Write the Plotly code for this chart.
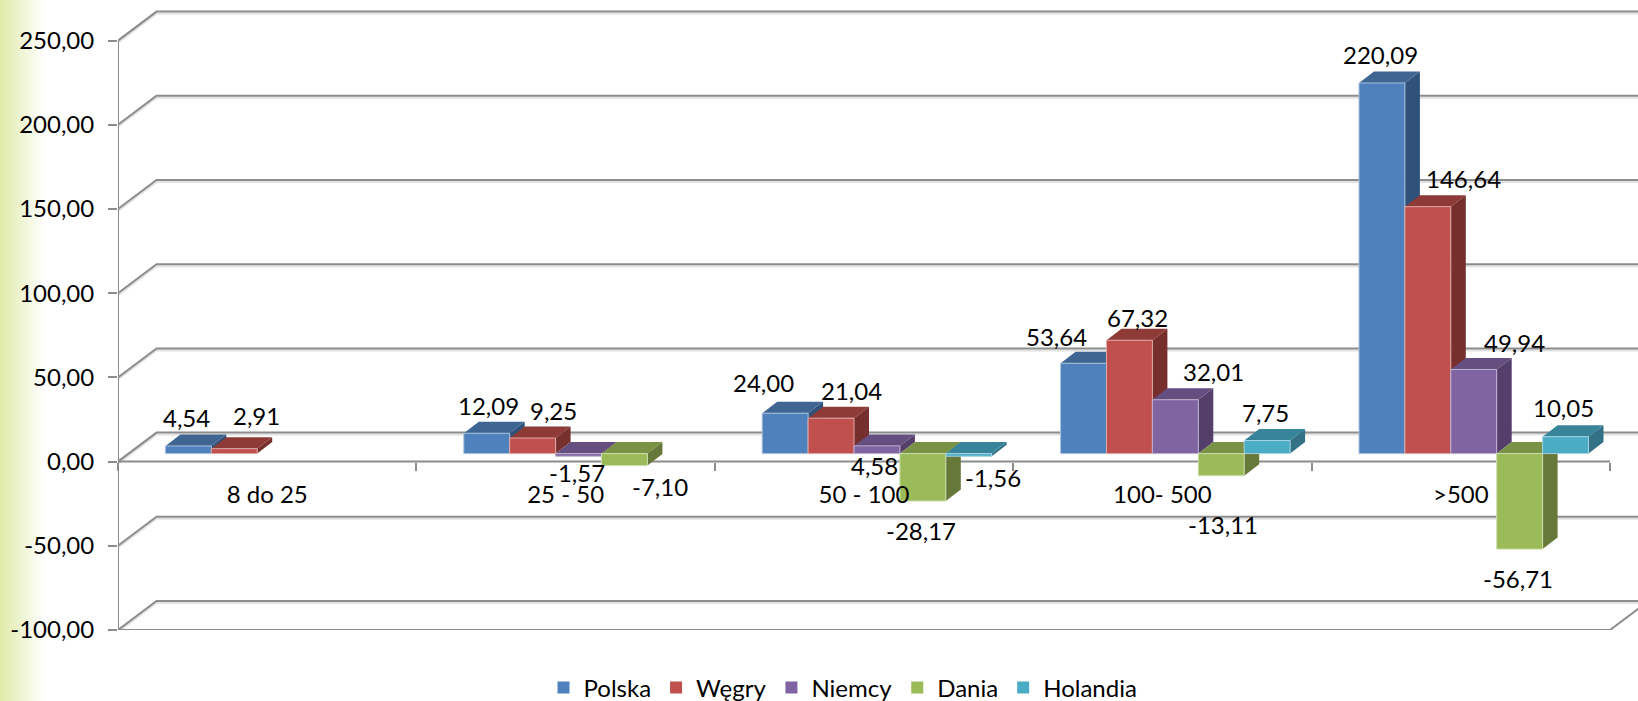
import plotly.graph_objects as go

# ---- data ----
categories = ["8 do 25", "25 - 50", "50 - 100", "100- 500", ">500"]
series_names = ["Polska", "Węgry", "Niemcy", "Dania", "Holandia"]
polska = [4.54, 12.09, 24.00, 53.64, 220.09]
wegry = [2.91, 9.25, 21.04, 67.32, 146.64]
niemcy = [None, -1.57, 4.58, 32.01, 49.94]
dania = [None, -7.10, -28.17, -13.11, -56.71]
holandia = [None, None, -1.56, 7.75, 10.05]
y_ticks = [-100, -50, 0, 50, 100, 150, 200, 250]
y_tick_labels = ["-100,00", "-50,00", "0,00", "50,00", "100,00", "150,00", "200,00", "250,00"]

# ---- styles ----
front_colors = ["#4F81BD", "#C0504D", "#8064A2", "#9BBB59", "#4BACC6"]
top_colors = ["#3F6592", "#8E3A37", "#654E80", "#7A9246", "#38859B"]
side_colors = ["#30527A", "#772F2D", "#543F6B", "#66793A", "#327186"]
edge_colors = ["#A9C1DE", "#DFA8A6", "#BFB1D0", "#CDDDAC", "#A5D5E2"]
GRID = "#8C8C8C"
GRID_SHADOW = "#E2E2E2"

# label offsets in pixels from the front-top centre of each bar (dx, dy down)
label_offsets = [
    [(-2, -28), (2, -28), (-22, -31), (-27, -27), (-1, -28)],
    [(22, -33), (21, -28), (20, -28), (8, -23), (36, -28)],
    [None, (-2, 16), (-2, 20), (38, -28), (41, -27)],
    [None, (36, 21), (-2, 29), (2, 49), (-2, 29)],
    [None, None, (24, 21), (-2, -28), (-2, -29)],
]

# ---- scale helpers (plot area geometry) ----
W, H = 1638, 701
ML, MB = 118, 71
PX_CAT = 298.4
PX_UNIT = 1.684
px_x = lambda p: p / PX_CAT
px_y = lambda p: p / PX_UNIT

WALL_DX, WALL_DY = px_x(38.5), px_y(29)      # depth of chart box
BAR_PAD = px_x(47.4)                         # gap at start of category
BAR_W = px_x(45.9)
FRONT_DY = px_y(8)                           # bars sit a bit behind the front plane
BAR_DX, BAR_DY = px_x(15), px_y(11.5)        # bar depth

fig = go.Figure()


def poly_trace(xs, ys, fill, line=None, width=0):
    fig.add_trace(go.Scatter(
        x=xs, y=ys, mode="lines", fill="toself", fillcolor=fill,
        line=dict(color=line or fill, width=width), hoverinfo="skip", showlegend=False))


def line_trace(xs, ys, color=GRID, width=2):
    fig.add_trace(go.Scatter(
        x=xs, y=ys, mode="lines", line=dict(color=color, width=width),
        hoverinfo="skip", showlegend=False))


# grid: front diagonal + back wall line
X_END = 5
for shadow, off in ((True, px_y(-2)), (False, 0)):
    gx, gy = [], []
    for v in y_ticks:
        gx += [0, WALL_DX, X_END + WALL_DX, None]
        gy += [v + off, v + WALL_DY + off, v + WALL_DY + off, None]
    line_trace(gx, gy, GRID_SHADOW if shadow else GRID)

# walls, floor and baseline
line_trace([0, 0], [y_ticks[0], y_ticks[-1]])
line_trace([0, X_END, X_END + WALL_DX], [y_ticks[0], y_ticks[0], y_ticks[0] + WALL_DY])
line_trace([0, X_END], [0, 0])

all_series = [polska, wegry, niemcy, dania, holandia]
annotations = []
for s, values in enumerate(all_series):
    front_x, front_y, top_x, top_y, side_x, side_y = [], [], [], [], [], []
    for c, v in enumerate(values):
        if v is None:
            continue
        x0 = c + BAR_PAD + s * BAR_W
        x1 = x0 + BAR_W
        base = FRONT_DY
        hi = max(v, 0) + base
        lo = min(v, 0) + base
        front_x += [x0, x1, x1, x0, x0, None]
        front_y += [lo, lo, hi, hi, lo, None]
        top_x += [x0, x1, x1 + BAR_DX, x0 + BAR_DX, x0, None]
        top_y += [hi, hi, hi + BAR_DY, hi + BAR_DY, hi, None]
        side_x += [x1, x1 + BAR_DX, x1 + BAR_DX, x1, x1, None]
        side_y += [lo, lo + BAR_DY, hi + BAR_DY, hi, lo, None]
        dx, dy = label_offsets[s][c]
        annotations.append(dict(
            x=(x0 + x1) / 2, y=v + base, xref="x", yref="y",
            text=f"{v:.2f}".replace(".", ","), showarrow=False,
            xanchor="center", yanchor="middle", xshift=dx, yshift=-dy,
            font=dict(family="Lato", size=24, color="#000000")))
    poly_trace(side_x, side_y, side_colors[s])
    poly_trace(top_x, top_y, top_colors[s])
    poly_trace(front_x, front_y, front_colors[s], edge_colors[s], 1)

# legend entries
for name, color in zip(series_names, front_colors):
    fig.add_trace(go.Scatter(
        x=[None], y=[None], mode="markers", name=name,
        marker=dict(symbol="square", size=14, color=color)))

# left gradient band
shapes = []
BAND = 44
for i in range(BAND):
    mix = 1 - i / BAND
    r = round(255 + (224 - 255) * mix)
    g = round(255 + (235 - 255) * mix)
    b = round(255 + (170 - 255) * mix)
    shapes.append(dict(
        type="rect", xref="paper", yref="paper", layer="below",
        x0=(i - ML) / (W - ML), x1=(i + 1 - ML) / (W - ML), y0=-MB / (H - MB), y1=1,
        fillcolor=f"rgb({r},{g},{b})", line=dict(width=0)))

plot_h = H - MB
fig.update_layout(
    width=W, height=H,
    margin=dict(l=ML, r=0, t=0, b=MB, autoexpand=False),
    paper_bgcolor="#FFFFFF", plot_bgcolor="rgba(0,0,0,0)",
    shapes=shapes, annotations=annotations,
    font=dict(family="Lato", color="#000000"),
    showlegend=True,
    legend=dict(
        orientation="h", x=(843 - ML) / (W - ML), xanchor="center",
        y=-58 / plot_h, yanchor="middle",
        font=dict(family="Lato", size=24), bgcolor="rgba(0,0,0,0)",
        itemsizing="constant", tracegroupgap=0),
    xaxis=dict(
        range=[0, (W - ML) / PX_CAT], showgrid=False, zeroline=False, showline=False,
        anchor="free", position=(100 * PX_UNIT) / plot_h,
        tickmode="array", tickvals=[i + 0.5 for i in range(5)], ticktext=categories,
        ticks="", ticklabelstandoff=16, tickfont=dict(family="Lato", size=24, color="#000000"),
        minor=dict(tickmode="array", tickvals=list(range(6)), ticks="outside",
                   ticklen=8, tickwidth=2, tickcolor=GRID, showgrid=False),
        fixedrange=True),
    yaxis=dict(
        range=[-100, -100 + plot_h / PX_UNIT], showgrid=False, zeroline=False, showline=False,
        tickmode="array", tickvals=y_ticks, ticktext=y_tick_labels,
        ticks="outside", ticklen=9, tickwidth=2, tickcolor=GRID,
        ticklabelstandoff=9, tickfont=dict(family="Lato", size=24, color="#000000"),
        fixedrange=True),
)

fig.write_html("out.html", config=dict(displayModeBar=False),
               post_script="document.body.style.margin='0';document.body.style.overflow='hidden';")
